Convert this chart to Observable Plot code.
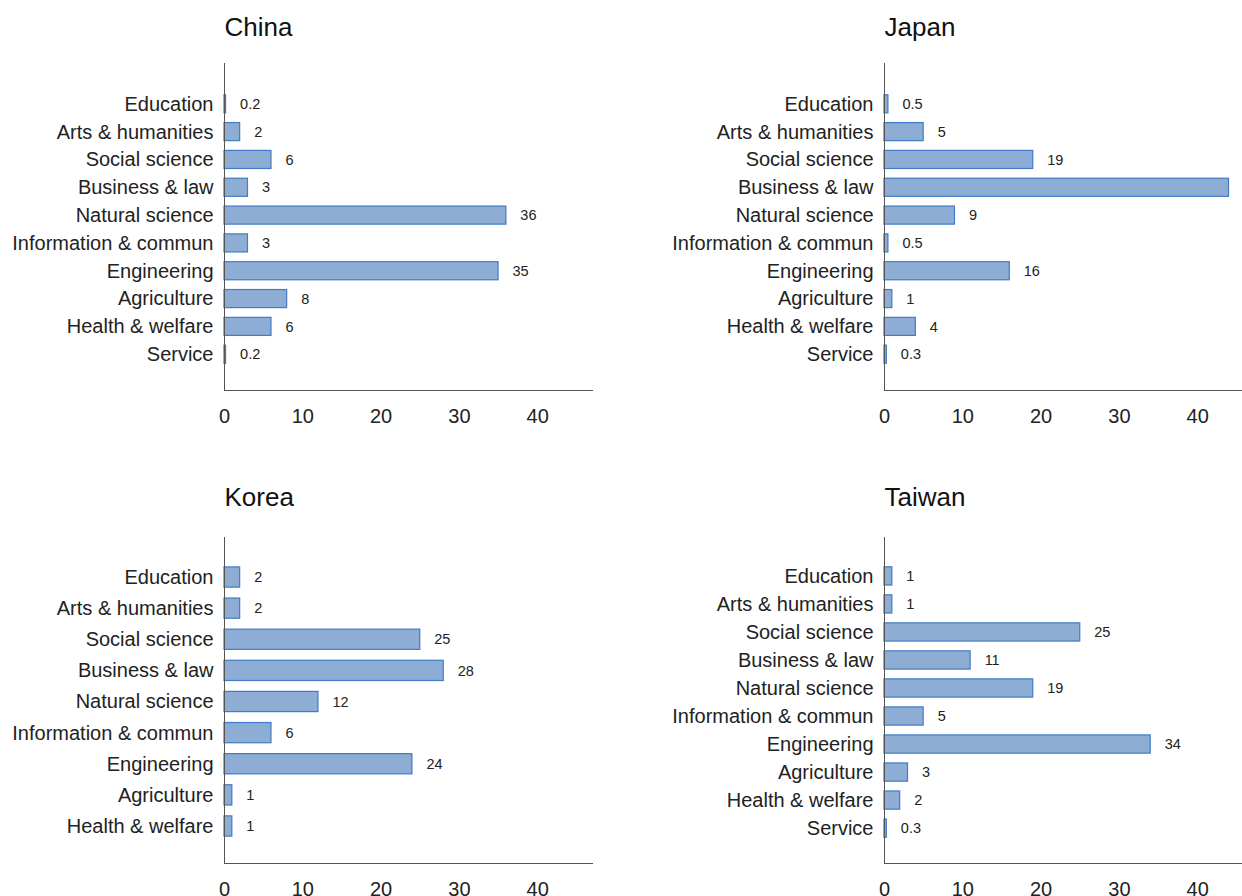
<!DOCTYPE html>
<html><head><meta charset="utf-8">
<script src="https://cdn.jsdelivr.net/npm/d3@7"></script>
<script src="https://cdn.jsdelivr.net/npm/@observablehq/plot@0.6"></script>
<style>
html,body{margin:0;padding:0;background:#fff;overflow:hidden;}
#root{position:relative;width:1242px;height:896px;overflow:hidden;background:#fff;}
.panel{position:absolute;width:600px;}
.panel svg{max-width:none !important;}
</style></head><body><div id="root"></div>
<script>
// ---- data ----
const categories = ["Education","Arts & humanities","Social science","Business & law","Natural science","Information & commun","Engineering","Agriculture","Health & welfare","Service"];
const koreaCategories = ["Education","Arts & humanities","Social science","Business & law","Natural science","Information & commun","Engineering","Agriculture","Health & welfare"];
const chinaValues  = [0.2, 2, 6, 3, 36, 3, 35, 8, 6, 0.2];
const japanValues  = [0.5, 5, 19, 44, 9, 0.5, 16, 1, 4, 0.3];
const koreaValues  = [2, 2, 25, 28, 12, 6, 24, 1, 1];
const taiwanValues = [1, 1, 25, 11, 19, 5, 34, 3, 2, 0.3];
const xTicks = [0, 10, 20, 30, 40];
const xMax = 47;

// ---- layout ----
const FONT = '"Liberation Sans", Arial, Helvetica, sans-serif';
const panels = [
  {title:"China",  cats:categories,      values:chinaValues,  left:0,   top:0,   marginTop:63, plotBottom:390, titleDy:-35.5, insetTop:22, insetBottom:17},
  {title:"Japan",  cats:categories,      values:japanValues,  left:660, top:0,   marginTop:63, plotBottom:390, titleDy:-35.5, insetTop:22, insetBottom:17},
  {title:"Korea",  cats:koreaCategories, values:koreaValues,  left:0,   top:470, marginTop:67, plotBottom:393, titleDy:-39.5, insetTop:19, insetBottom:16},
  {title:"Taiwan", cats:categories,      values:taiwanValues, left:660, top:470, marginTop:67, plotBottom:393, titleDy:-39.5, insetTop:20, insetBottom:16}
];

const root = document.getElementById("root");
for (const p of panels) {
  const data = p.cats.map((c, i) => ({category: c, value: p.values[i]}));
  const marginBottom = 50;
  const chart = Plot.plot({
    width: 600,
    height: p.plotBottom + marginBottom,
    marginTop: p.marginTop,
    marginBottom,
    marginLeft: 224,
    marginRight: 8,
    style: {fontFamily: FONT, fontSize: "20px", color: "#222", background: "transparent", overflow: "visible", maxWidth: "none"},
    x: {domain: [0, xMax]},
    y: {domain: p.cats, padding: 0.35, round: false, insetTop: p.insetTop, insetBottom: p.insetBottom},
    marks: [
      Plot.barX(data, {x: "value", y: "category", fill: "#8eadd4", stroke: "#3f7bc6", strokeWidth: 1.2}),
      Plot.text(data, {x: "value", y: "category", text: d => String(d.value), textAnchor: "start", dx: 14, fontSize: 14.5, fill: "#222"}),
      Plot.axisY({tickSize: 0, tickPadding: 11, label: null, fontSize: 20}),
      Plot.axisX({ticks: xTicks, tickSize: 0, tickPadding: 18, label: null, fontSize: 20, tickFormat: d => String(d)}),
      Plot.frame({anchor: "left", stroke: "#555"}),
      Plot.frame({anchor: "bottom", stroke: "#555"}),
      Plot.text([p.title], {frameAnchor: "top-left", text: d => d, textAnchor: "start", lineAnchor: "middle", dy: p.titleDy, fontSize: 26, fill: "#111"})
    ]
  });
  const div = document.createElement("div");
  div.className = "panel";
  div.style.left = p.left + "px";
  div.style.top = p.top + "px";
  div.appendChild(chart);
  root.appendChild(div);
}
</script>
</body></html>
